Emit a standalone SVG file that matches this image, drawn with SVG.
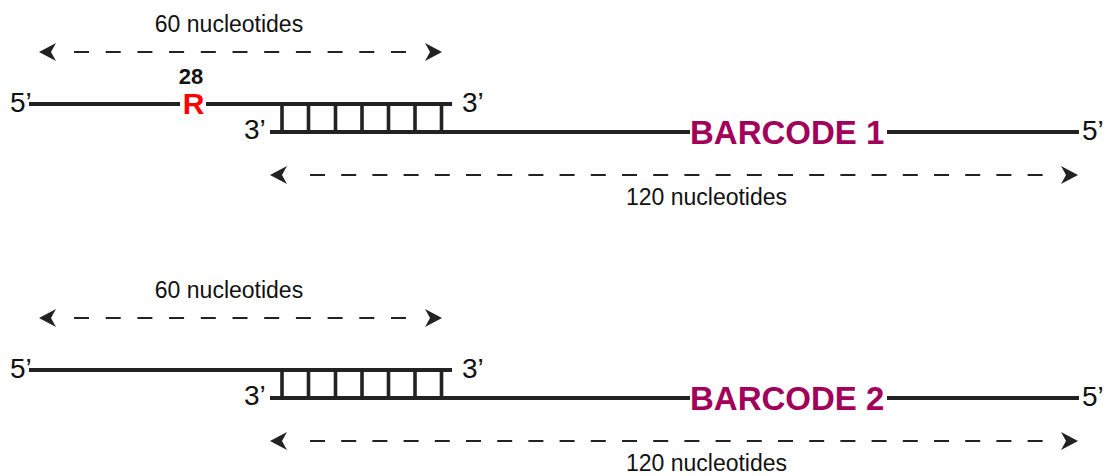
<svg xmlns="http://www.w3.org/2000/svg" xmlns:xlink="http://www.w3.org/1999/xlink" width="1112" height="476" viewBox="0 0 1112 476">
  <style>
    .strand { stroke: #222; stroke-width: 4; fill: none; }
    .rung { stroke: #222; stroke-width: 3.6; }
    .span { stroke: #222; stroke-width: 2; fill: none; }
    .end { font-family: "Liberation Sans", Arial, sans-serif; font-size: 28px; fill: #111; }
    .len { font-family: "Liberation Sans", Arial, sans-serif; font-size: 23px; fill: #111; text-anchor: middle; }
    .bc { font-family: "Liberation Sans", Arial, sans-serif; font-size: 33px; font-weight: bold; fill: #a1005b; }
    .pos { font-family: "Liberation Sans", Arial, sans-serif; font-size: 22px; font-weight: bold; fill: #111; text-anchor: middle; }
    .mut { font-family: "Liberation Sans", Arial, sans-serif; font-size: 30px; font-weight: bold; fill: #ff0000; text-anchor: middle; }
    .head { fill: #222; }
  </style>
  <defs>
    <!-- arrowhead pointing right, tip at origin -->
    <path id="head" class="head" d="M0,0 L-17,-9 L-12,0 L-17,9 Z"/>
    <!-- base-paired region: seven rungs between the two strands -->
    <g id="ladder">
      <line class="rung" x1="282" y1="104" x2="282" y2="132"/>
      <line class="rung" x1="308.5" y1="104" x2="308.5" y2="132"/>
      <line class="rung" x1="335.5" y1="104" x2="335.5" y2="132"/>
      <line class="rung" x1="362" y1="104" x2="362" y2="132"/>
      <line class="rung" x1="388.5" y1="104" x2="388.5" y2="132"/>
      <line class="rung" x1="415" y1="104" x2="415" y2="132"/>
      <line class="rung" x1="441.5" y1="104" x2="441.5" y2="132"/>
    </g>
  </defs>

  <!-- first duplex: 60-nt oligo with R at position 28, annealed to barcode 1 oligo -->
  <g id="duplex-1">
    <g id="oligo-60-1">
      <text class="end" x="10" y="112">5’</text>
      <line class="strand" x1="29" y1="104" x2="180" y2="104"/>
      <line class="strand" x1="206" y1="104" x2="452" y2="104"/>
      <text class="pos" x="191" y="84">28</text>
      <text class="mut" x="193.5" y="114">R</text>
      <text class="end" x="462" y="112">3’</text>
    </g>
    <use xlink:href="#ladder"/>
    <g id="oligo-120-1">
      <text class="end" x="244" y="139">3’</text>
      <line class="strand" x1="270" y1="132" x2="690" y2="132"/>
      <text class="bc" x="690" y="143.5">BARCODE 1</text>
      <line class="strand" x1="887" y1="132" x2="1079" y2="132"/>
      <text class="end" x="1082" y="140">5’</text>
    </g>
    <text class="len" x="229" y="32">60 nucleotides</text>
    <text class="len" x="706.5" y="205">120 nucleotides</text>
  </g>

  <!-- second duplex: unmodified 60-nt oligo annealed to barcode 2 oligo -->
  <g id="duplex-2" transform="translate(0,266)">
    <g id="oligo-60-2">
      <text class="end" x="10" y="112">5’</text>
      <line class="strand" x1="29" y1="104" x2="452" y2="104"/>
      <text class="end" x="462" y="112">3’</text>
    </g>
    <use xlink:href="#ladder"/>
    <g id="oligo-120-2">
      <text class="end" x="244" y="139">3’</text>
      <line class="strand" x1="270" y1="132" x2="690" y2="132"/>
      <text class="bc" x="690" y="143.5">BARCODE 2</text>
      <line class="strand" x1="887" y1="132" x2="1079" y2="132"/>
      <text class="end" x="1082" y="140">5’</text>
    </g>
    <text class="len" x="229" y="32">60 nucleotides</text>
    <text class="len" x="706.5" y="205">120 nucleotides</text>
  </g>

  <!-- length spans: dashed double-headed arrows -->
  <g id="connectors">
    <g id="span-60-1">
      <line class="span" x1="74" y1="52" x2="406" y2="52" stroke-dasharray="15 16.7"/>
      <use xlink:href="#head" transform="translate(39,52) scale(-1,1)"/>
      <use xlink:href="#head" transform="translate(442,52)"/>
    </g>
    <g id="span-120-1">
      <line class="span" x1="310" y1="175" x2="1043" y2="175" stroke-dasharray="15 16.2"/>
      <use xlink:href="#head" transform="translate(270,175) scale(-1,1)"/>
      <use xlink:href="#head" transform="translate(1078,175)"/>
    </g>
    <g id="span-60-2">
      <line class="span" x1="74" y1="318" x2="406" y2="318" stroke-dasharray="15 16.7"/>
      <use xlink:href="#head" transform="translate(39,318) scale(-1,1)"/>
      <use xlink:href="#head" transform="translate(442,318)"/>
    </g>
    <g id="span-120-2">
      <line class="span" x1="310" y1="441" x2="1043" y2="441" stroke-dasharray="15 16.2"/>
      <use xlink:href="#head" transform="translate(270,441) scale(-1,1)"/>
      <use xlink:href="#head" transform="translate(1078,441)"/>
    </g>
  </g>
</svg>
